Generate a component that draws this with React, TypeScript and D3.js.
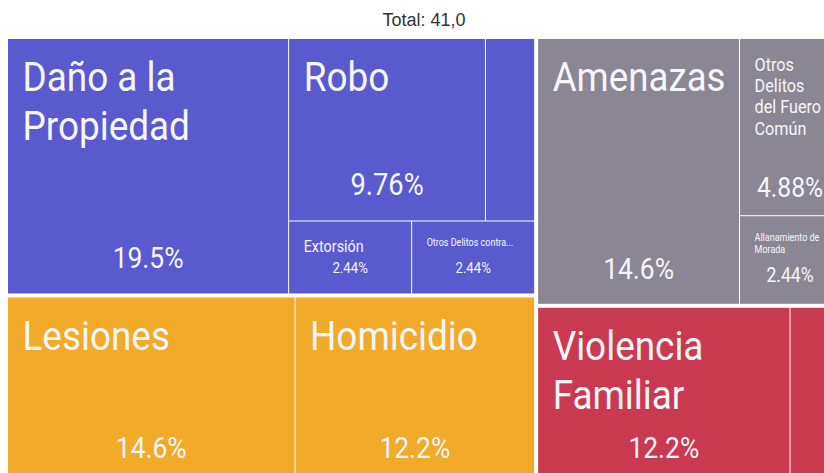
import React, { useMemo } from "react";
import * as d3 from "d3";

// ---- data ----
const groups = ["Patrimonio", "Vida e Integridad", "Otros Delitos", "Familia"];
const groupColors = ["#5A5ACF", "#F1AA2A", "#8A8693", "#C93A50"];
const categories = [
  "Daño a la Propiedad",
  "Robo",
  "Otro (Patrimonio)",
  "Extorsión",
  "Otros Delitos contra el Patrimonio",
  "Lesiones",
  "Homicidio",
  "Amenazas",
  "Otros Delitos del Fuero Común",
  "Allanamiento de Morada",
  "Violencia Familiar",
  "Otro (Familia)",
];
const categoryGroup = [0, 0, 0, 0, 0, 1, 1, 2, 2, 2, 3, 3];
const counts = [8, 4, 1, 1, 1, 6, 5, 6, 2, 1, 5, 1];

// ---- label styles (font sizes), keyed by category ----
const labelStyle: Record<
  string,
  { label: number; pct: number; maxLines?: number; pctBottom?: number }
> = {
  "Daño a la Propiedad": { label: 41, pct: 30 },
  Robo: { label: 41, pct: 31 },
  Extorsión: { label: 16, pct: 15 },
  "Otros Delitos contra el Patrimonio": { label: 10, pct: 15, maxLines: 1 },
  Lesiones: { label: 41, pct: 30 },
  Homicidio: { label: 41, pct: 30 },
  Amenazas: { label: 41, pct: 30 },
  "Otros Delitos del Fuero Común": { label: 18, pct: 28, pctBottom: 18 },
  "Allanamiento de Morada": { label: 10, pct: 20 },
  "Violencia Familiar": { label: 41, pct: 30 },
};

const FONT = "Roboto, 'Noto Sans', sans-serif";
const WEIGHT = 400;
const SX_LABEL = 0.9; // horizontal condensing of label text
const SX_PCT = 0.88; // horizontal condensing of percentage text
const W = 824;
const H = 473;

let ctx: CanvasRenderingContext2D | null = null;
function measure(text: string, size: number, sx: number) {
  if (!ctx) ctx = document.createElement("canvas").getContext("2d");
  if (!ctx) return text.length * size * 0.5 * sx;
  ctx.font = `${WEIGHT} ${size}px ${FONT}`;
  return ctx.measureText(text).width * sx;
}

function wrap(text: string, size: number, maxW: number, maxLines = 99): string[] {
  const words = text.split(" ");
  const lines: string[] = [];
  let cur = "";
  for (const w of words) {
    const t = cur ? cur + " " + w : w;
    if (measure(t, size, SX_LABEL) <= maxW || !cur) cur = t;
    else {
      lines.push(cur);
      cur = w;
    }
  }
  if (cur) lines.push(cur);
  if (lines.length > maxLines) {
    const kept = lines.slice(0, maxLines);
    const ws = lines.slice(maxLines - 1).join(" ").split(" ");
    while (ws.length > 1 && measure(ws.join(" ") + "...", size, SX_LABEL) > maxW) ws.pop();
    kept[maxLines - 1] = ws.join(" ") + "...";
    return kept;
  }
  return lines;
}

export default function App() {
  const total = d3.sum(counts);
  const pctFmt = d3.format(".3p");

  const leaves = useMemo(() => {
    const data = {
      name: "root",
      children: groups.map((g, gi) => ({
        name: g,
        gi,
        children: categories
          .map((c, i) => ({ name: c, value: counts[i], gi: categoryGroup[i] }))
          .filter((d) => d.gi === gi),
      })),
    };
    const root = d3
      .hierarchy<any>(data)
      .sum((d) => d.value || 0)
      .sort((a, b) => (b.value || 0) - (a.value || 0));
    d3
      .treemap<any>()
      .size([832, 444])
      .paddingInner((d) => (d.depth === 0 ? 4 : 1))
      .tile(d3.treemapSquarify)(root);
    return root.leaves() as d3.HierarchyRectangularNode<any>[];
  }, []);

  return (
    <svg
      width={W}
      height={H}
      style={{ position: "absolute", left: 0, top: 0, background: "#fff" }}
    >
      <text
        x={424}
        y={26}
        textAnchor="middle"
        fontFamily="'Liberation Sans', Arial, sans-serif"
        fontSize={18}
        fill="#333"
      >
        {`Total: ${d3.format(".1f")(total).replace(".", ",")}`}
      </text>
      <g transform="translate(8,39)">
        {leaves.map((d, i) => {
          const w = d.x1 - d.x0;
          const h = d.y1 - d.y0;
          const st = labelStyle[d.data.name];
          const maxW = w - 28;
          const lines = st ? wrap(d.data.name, st.label, maxW, st.maxLines) : [];
          const padTop = st ? 16 + 0.17 * st.label : 0;
          const pctOff = st ? st.pctBottom ?? 16 + 0.3 * st.pct : 0;
          return (
            <g key={i}>
              <rect x={d.x0} y={d.y0} width={w} height={h} fill={groupColors[d.data.gi]} />
              {st && (
                <g fontFamily={FONT} fontWeight={WEIGHT} fill="#F6F6F8">
                  <text
                    transform={`translate(${d.x0 + 14.5},${d.y0 + padTop + 0.72 * st.label}) scale(${SX_LABEL},1)`}
                    fontSize={st.label}
                  >
                    {lines.map((l, li) => {
                      const lw = measure(l, st.label, SX_LABEL);
                      const fit = lw > maxW;
                      return (
                        <tspan
                          key={li}
                          x={0}
                          y={li * st.label * 1.18}
                          {...(fit
                            ? { textLength: maxW / SX_LABEL, lengthAdjust: "spacingAndGlyphs" }
                            : {})}
                        >
                          {l}
                        </tspan>
                      );
                    })}
                  </text>
                  <text
                    transform={`translate(${(d.x0 + d.x1) / 2},${d.y1 - pctOff}) scale(${SX_PCT},1)`}
                    textAnchor="middle"
                    fontSize={st.pct}
                  >
                    {pctFmt((d.value || 0) / total)}
                  </text>
                </g>
              )}
            </g>
          );
        })}
      </g>
    </svg>
  );
}
